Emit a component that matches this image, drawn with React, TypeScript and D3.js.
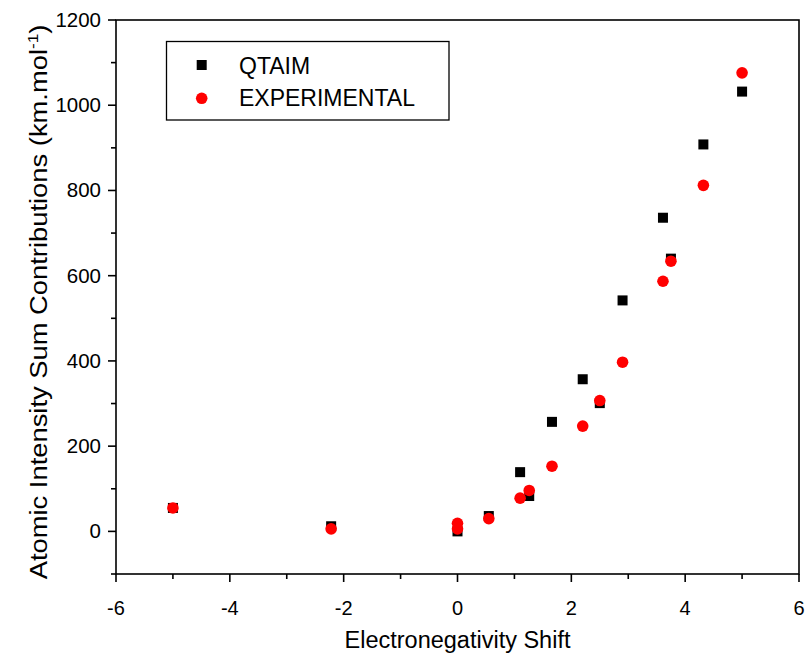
import React from "react";
import * as d3 from "d3";

const qtaimX = [-5, -2.22, 0, 0.55, 1.1, 1.26, 1.66, 2.2, 2.5, 2.9, 3.61, 3.75, 4.32, 5.0];
const qtaimY = [55, 12, 0, 36, 139, 83, 257, 357, 301, 542, 736, 640, 908, 1032];
const expX = [-5, -2.22, 0, 0, 0.55, 1.1, 1.26, 1.66, 2.2, 2.5, 2.9, 3.61, 3.75, 4.32, 5.0];
const expY = [55, 6, 6, 19, 30, 78, 96, 153, 247, 307, 397, 587, 634, 812, 1076];
const xTicks = [-6, -4, -2, 0, 2, 4, 6];
const xMinor = [-5, -3, -1, 1, 3, 5];
const yTicks = [0, 200, 400, 600, 800, 1000, 1200];
const yMinor = [-100, 100, 300, 500, 700, 900, 1100];

export default function App() {
  const W = 807, H = 659;
  const L = 116, R = 799, T = 20, B = 574;
  const x = d3.scaleLinear().domain([-6, 6]).range([L, R]);
  const y = d3.scaleLinear().domain([-100, 1200]).range([B, T]);
  const font = "Arial, 'Liberation Sans', sans-serif";
  const sq = 10;
  return (
    <svg width={W} height={H} style={{ position: "absolute", left: 0, top: 0, background: "#fff" }}>
      <rect x={0} y={0} width={W} height={H} fill="#fff" />
      <rect x={L} y={T} width={R - L} height={B - T} fill="none" stroke="#000" strokeWidth={1.6} />
      {xTicks.map((t) => (
        <g key={"xt" + t}>
          <line x1={x(t)} x2={x(t)} y1={B} y2={B + 8} stroke="#000" strokeWidth={1.6} />
          <text x={x(t)} y={615} textAnchor="middle" fontFamily={font} fontSize={20}>{t}</text>
        </g>
      ))}
      {xMinor.map((t) => (
        <line key={"xm" + t} x1={x(t)} x2={x(t)} y1={B} y2={B + 5} stroke="#000" strokeWidth={1.6} />
      ))}
      {yTicks.map((t) => (
        <g key={"yt" + t}>
          <line x1={L - 8} x2={L} y1={y(t)} y2={y(t)} stroke="#000" strokeWidth={1.6} />
          <text x={101} y={y(t) + 7} textAnchor="end" fontFamily={font} fontSize={20.5}>{t}</text>
        </g>
      ))}
      {yMinor.map((t) => (
        <line key={"ym" + t} x1={L - 5} x2={L} y1={y(t)} y2={y(t)} stroke="#000" strokeWidth={1.6} />
      ))}
      <text x={x(0)} y={648} textAnchor="middle" fontFamily={font} fontSize={23.5}>Electronegativity Shift</text>
      <text transform={`translate(47, 302) rotate(-90) scale(1.14, 1)`} textAnchor="middle" fontFamily={font} fontSize={24}>
        Atomic Intensity Sum Contributions (km.mol<tspan dy={-9} fontSize={15}>-1</tspan><tspan dy={9}>)</tspan>
      </text>
      {qtaimX.map((v, i) => (
        <rect key={"q" + i} x={x(v) - sq / 2} y={y(qtaimY[i]) - sq / 2} width={sq} height={sq} fill="#000" />
      ))}
      {expX.map((v, i) => (
        <circle key={"e" + i} cx={x(v)} cy={y(expY[i])} r={5.8} fill="#ff0000" />
      ))}
      <rect x={166.5} y={41.5} width={282.5} height={78.5} fill="#fff" stroke="#000" strokeWidth={1.3} />
      <rect x={201.7 - sq / 2} y={65 - sq / 2} width={sq} height={sq} fill="#000" />
      <circle cx={201.7} cy={98.3} r={5.8} fill="#ff0000" />
      <text x={239} y={74} fontFamily={font} fontSize={23}>QTAIM</text>
      <text x={239} y={106} fontFamily={font} fontSize={23}>EXPERIMENTAL</text>
    </svg>
  );
}
